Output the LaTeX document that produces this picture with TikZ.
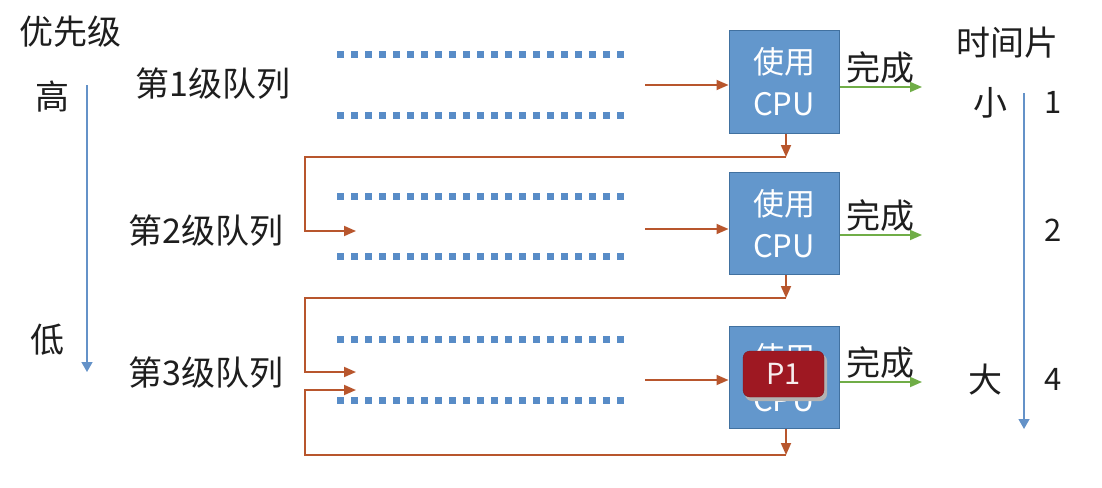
\documentclass[tikz,border=0pt]{standalone}
\usepackage{fontspec}
\setmainfont{Noto Sans CJK SC}
\usetikzlibrary{arrows.meta,positioning,calc}

\definecolor{cpublue}{RGB}{99,151,204}
\definecolor{cpuline}{RGB}{65,113,160}
\definecolor{dotblue}{RGB}{88,140,199}
\definecolor{axisblue}{RGB}{100,146,200}
\definecolor{fbbrown}{RGB}{184,86,45}
\definecolor{donegreen}{RGB}{112,173,71}
\definecolor{txtgray}{RGB}{30,30,30}
\definecolor{pred}{RGB}{158,24,34}

\begin{document}
\begin{tikzpicture}[x=1pt,y=-1pt,
	every node/.style={font=\fontsize{34}{40}\selectfont,text=txtgray,inner sep=1pt},
	cpu/.style={draw=cpuline,fill=cpublue,line width=1pt,minimum width=110pt,minimum height=102pt,
		align=center,text=white,font=\fontsize{31}{42}\selectfont},
	proc/.style={draw=pred!80!black,fill=pred,rounded corners=7pt,minimum width=81pt,minimum height=46pt,
		text=white!92!pred,font=\fontsize{29}{32}\selectfont},
	dots/.style={dotblue,line width=7pt,dash pattern=on 7pt off 7pt},
	fb/.style={fbbrown,line width=1.8pt,-{Triangle[length=12pt,width=10pt]}},
	done/.style={donegreen,line width=1.8pt,-{Triangle[length=12pt,width=10pt]}},
	axis/.style={axisblue,line width=1.4pt,-{Triangle[length=10pt,width=11pt]}},
	num/.style={font=\fontsize{31}{34}\selectfont}]
	\useasboundingbox (0,0) rectangle (1102,487);
	
	% 优先级
	\node (prio) at (70,32) {优先级};
	\node (hi) at (52,97) {高};
	\node (lo) at (47,340) {低};
	\coordinate (pa) at (87,85);
	\coordinate (pb) at (87,372);
	\draw[axis] (pa)--(pb);
	
	% 三级队列
	\node (q1) at (213,84) {第1级队列};
	\node (q2) at (206,231) {第2级队列};
	\node (q3) at (206,373) {第3级队列};
	\foreach \y in {55,115,196,256,339,400}
		\draw[dots] (337,\y)--(626,\y);
	
	% CPU
	\node[cpu] (cpu1) at (784,82) {使用\\CPU};
	\node[cpu] (cpu2) at (784,223.5) {使用\\CPU};
	\node[cpu] (cpu3) at (784,377.5) {使用\\CPU};
	\fill[black!30,rounded corners=7pt] (745,354) rectangle (827,401); % 阴影
	\node[proc] (p1) at (783.5,374) {P1};
	
	% 进入CPU
	\coordinate (s1) at (645,85);
	\coordinate (s2) at (645,229);
	\coordinate (s3) at (645,380);
	\draw[fb] (s1)--(s1-|cpu1.west);
	\draw[fb] (s2)--(s2-|cpu2.west);
	\draw[fb] (s3)--(s3-|cpu3.west);
	
	% 完成
	\foreach \i/\y in {1/87,2/235,3/382}{
		\coordinate (f\i) at (922,\y);
		\draw[done] (f\i-|cpu\i.east)--(f\i) node[midway,above=2pt]{完成};
	}
	
	% 降级
	\coordinate (k1) at (786,157);
	\coordinate (k2) at (786,298);
	\coordinate (k3) at (786,455);
	\coordinate (l1) at (305,157);
	\coordinate (l2) at (305,298);
	\coordinate (l3) at (305,455);
	\coordinate (e2) at (356,231);
	\coordinate (e3) at (356,372);
	\coordinate (e4) at (356,390);
	\draw[fb] (cpu1.south-|k1)--(k1);
	\draw[fb] (cpu2.south-|k2)--(k2);
	\draw[fb] (cpu3.south-|k3)--(k3);
	\draw[fb] (k1)--(l1)|-(e2);
	\draw[fb] (k2)--(l2)|-(e3);
	\draw[fb] (k3)--(l3)|-(e4);
	
	% 时间片
	\node (slice) at (1007,43) {时间片};
	\node (small) at (990,103) {小};
	\node (big) at (985,380) {大};
	\node[num] (t1) at (1053,102) {1};
	\node[num] (t2) at (1053,230) {2};
	\node[num] (t4) at (1053,379) {4};
	\coordinate (ta) at (1024,93);
	\coordinate (tb) at (1024,429);
	\draw[axis] (ta)--(tb);
\end{tikzpicture}
\end{document}
